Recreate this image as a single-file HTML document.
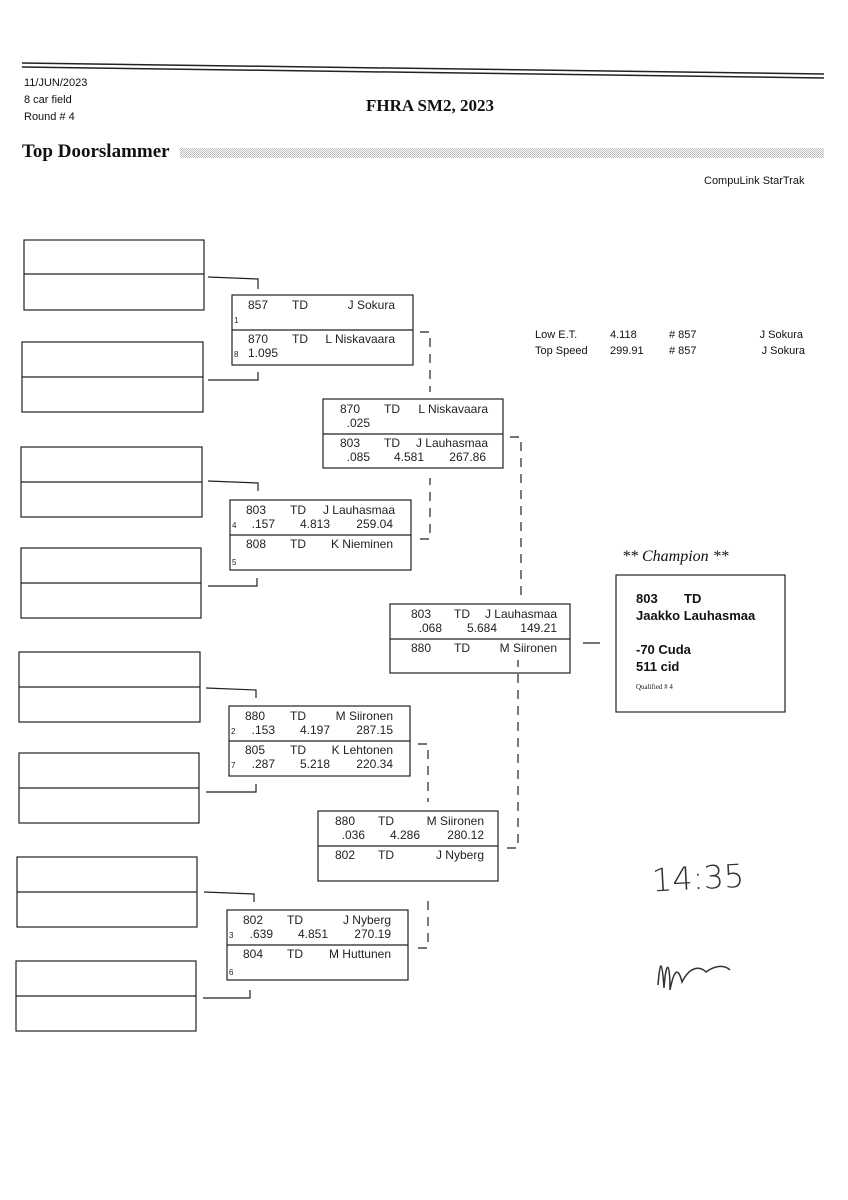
<!DOCTYPE html>
<html><head><meta charset="utf-8"><style>
html,body{margin:0;padding:0;background:#fff;}
svg{display:block}
.m{font-family:"Liberation Sans",sans-serif;font-size:12px;fill:#222}
.s{font-family:"Liberation Sans",sans-serif;font-size:8px;fill:#222}
.h{font-family:"Liberation Sans",sans-serif;font-size:11px;fill:#111}
</style></head><body>
<svg width="848" height="1200" viewBox="0 0 848 1200" xmlns="http://www.w3.org/2000/svg">
<defs><pattern id="dots" width="2" height="2" patternUnits="userSpaceOnUse"><rect width="1" height="1" fill="#555"/><rect x="1" y="1" width="1" height="1" fill="#555"/></pattern></defs>
<!-- header -->
<line x1="22" y1="63" x2="824" y2="74" stroke="#222" stroke-width="1.5"/>
<line x1="22" y1="67" x2="824" y2="78" stroke="#222" stroke-width="1.5"/>
<text x="24" y="86" class="h">11/JUN/2023</text>
<text x="24" y="103" class="h">8 car field</text>
<text x="24" y="120" class="h">Round # 4</text>
<text x="366" y="111" font-family="Liberation Serif,serif" font-weight="bold" font-size="17" fill="#111">FHRA SM2, 2023</text>
<text x="22" y="157" font-family="Liberation Serif,serif" font-weight="bold" font-size="19" fill="#111">Top Doorslammer</text>
<rect x="180" y="148" width="644" height="10" fill="url(#dots)" opacity="0.4"/>
<text x="704" y="184" class="h">CompuLink StarTrak</text>

<g fill="none" stroke="#222" stroke-width="1.2">
<rect x="24" y="240" width="180" height="70"/><line x1="24" y1="274" x2="204" y2="274"/>
<rect x="22" y="342" width="181" height="70"/><line x1="22" y1="377" x2="203" y2="377"/>
<rect x="21" y="447" width="181" height="70"/><line x1="21" y1="482" x2="202" y2="482"/>
<rect x="21" y="548" width="180" height="70"/><line x1="21" y1="583" x2="201" y2="583"/>
<rect x="19" y="652" width="181" height="70"/><line x1="19" y1="687" x2="200" y2="687"/>
<rect x="19" y="753" width="180" height="70"/><line x1="19" y1="788" x2="199" y2="788"/>
<rect x="17" y="857" width="180" height="70"/><line x1="17" y1="892" x2="197" y2="892"/>
<rect x="16" y="961" width="180" height="70"/><line x1="16" y1="996" x2="196" y2="996"/>
<rect x="232" y="295" width="181" height="70"/><line x1="232" y1="330" x2="413" y2="330"/>
<rect x="230" y="500" width="181" height="70"/><line x1="230" y1="535" x2="411" y2="535"/>
<rect x="229" y="706" width="181" height="70"/><line x1="229" y1="741" x2="410" y2="741"/>
<rect x="227" y="910" width="181" height="70"/><line x1="227" y1="945" x2="408" y2="945"/>
<rect x="323" y="399" width="180" height="69"/><line x1="323" y1="434" x2="503" y2="434"/>
<rect x="318" y="811" width="180" height="70"/><line x1="318" y1="846" x2="498" y2="846"/>
<rect x="390" y="604" width="180" height="69"/><line x1="390" y1="639" x2="570" y2="639"/>
<rect x="616" y="575" width="169" height="137"/>
<polyline points="208,277 258,279 258,289"/>
<polyline points="208,380 258,380 258,372"/>
<polyline points="208,481 258,483 258,491"/>
<polyline points="208,586 257,586 257,578"/>
<polyline points="206,688 256,690 256,698"/>
<polyline points="206,792 256,792 256,784"/>
<polyline points="204,892 254,894 254,902"/>
<polyline points="203,998 250,998 250,990"/>
<line x1="583" y1="643" x2="600" y2="643"/>
</g>
<g fill="none" stroke="#222" stroke-width="1.2" stroke-dasharray="9,7">
<polyline points="420,332 430,332 430,392"/>
<polyline points="420,539 430,539 430,478"/>
<polyline points="510,437 521,437 521,595"/>
<polyline points="418,744 428,744 428,802"/>
<polyline points="418,948 428,948 428,898"/>
<polyline points="507,848 518,848 518,660"/>
</g>

<g class="m">
<text x="248" y="309">857</text><text x="292" y="309">TD</text><text x="395" y="309" text-anchor="end">J Sokura</text>
<text x="234" y="323" class="s">1</text>
<text x="248" y="343">870</text><text x="292" y="343">TD</text><text x="395" y="343" text-anchor="end">L Niskavaara</text>
<text x="234" y="357" class="s">8</text><text x="248" y="357">1.095</text>
<text x="246" y="514">803</text><text x="290" y="514">TD</text><text x="395" y="514" text-anchor="end">J Lauhasmaa</text>
<text x="232" y="528" class="s">4</text><text x="275" y="528" text-anchor="end">.157</text><text x="330" y="528" text-anchor="end">4.813</text><text x="393" y="528" text-anchor="end">259.04</text>
<text x="246" y="548">808</text><text x="290" y="548">TD</text><text x="393" y="548" text-anchor="end">K Nieminen</text>
<text x="232" y="565" class="s">5</text>
<text x="245" y="720">880</text><text x="290" y="720">TD</text><text x="393" y="720" text-anchor="end">M Siironen</text>
<text x="231" y="734" class="s">2</text><text x="275" y="734" text-anchor="end">.153</text><text x="330" y="734" text-anchor="end">4.197</text><text x="393" y="734" text-anchor="end">287.15</text>
<text x="245" y="754">805</text><text x="290" y="754">TD</text><text x="393" y="754" text-anchor="end">K Lehtonen</text>
<text x="231" y="768" class="s">7</text><text x="275" y="768" text-anchor="end">.287</text><text x="330" y="768" text-anchor="end">5.218</text><text x="393" y="768" text-anchor="end">220.34</text>
<text x="243" y="924">802</text><text x="287" y="924">TD</text><text x="391" y="924" text-anchor="end">J Nyberg</text>
<text x="229" y="938" class="s">3</text><text x="273" y="938" text-anchor="end">.639</text><text x="328" y="938" text-anchor="end">4.851</text><text x="391" y="938" text-anchor="end">270.19</text>
<text x="243" y="958">804</text><text x="287" y="958">TD</text><text x="391" y="958" text-anchor="end">M Huttunen</text>
<text x="229" y="975" class="s">6</text>
<text x="340" y="413">870</text><text x="384" y="413">TD</text><text x="488" y="413" text-anchor="end">L Niskavaara</text>
<text x="370" y="427" text-anchor="end">.025</text>
<text x="340" y="447">803</text><text x="384" y="447">TD</text><text x="488" y="447" text-anchor="end">J Lauhasmaa</text>
<text x="370" y="461" text-anchor="end">.085</text><text x="424" y="461" text-anchor="end">4.581</text><text x="486" y="461" text-anchor="end">267.86</text>
<text x="335" y="825">880</text><text x="378" y="825">TD</text><text x="484" y="825" text-anchor="end">M Siironen</text>
<text x="365" y="839" text-anchor="end">.036</text><text x="420" y="839" text-anchor="end">4.286</text><text x="484" y="839" text-anchor="end">280.12</text>
<text x="335" y="859">802</text><text x="378" y="859">TD</text><text x="484" y="859" text-anchor="end">J Nyberg</text>
<text x="411" y="618">803</text><text x="454" y="618">TD</text><text x="557" y="618" text-anchor="end">J Lauhasmaa</text>
<text x="442" y="632" text-anchor="end">.068</text><text x="497" y="632" text-anchor="end">5.684</text><text x="557" y="632" text-anchor="end">149.21</text>
<text x="411" y="652">880</text><text x="454" y="652">TD</text><text x="557" y="652" text-anchor="end">M Siironen</text>
<text x="535" y="338" class="h">Low  E.T.</text><text x="610" y="338" class="h">4.118</text><text x="669" y="338" class="h"># 857</text><text x="803" y="338" text-anchor="end" class="h">J Sokura</text>
<text x="535" y="354" class="h">Top Speed</text><text x="610" y="354" class="h">299.91</text><text x="669" y="354" class="h"># 857</text><text x="805" y="354" text-anchor="end" class="h">J Sokura</text>
</g>
<text x="622" y="561" font-family="Liberation Serif,serif" font-style="italic" font-size="16" fill="#111">** Champion **</text>
<g font-family="Liberation Sans,sans-serif" font-size="13" font-weight="bold" fill="#111">
<text x="636" y="603">803</text><text x="684" y="603">TD</text>
<text x="636" y="620">Jaakko Lauhasmaa</text>
<text x="636" y="654">-70 Cuda</text>
<text x="636" y="671">511 cid</text>
</g>
<text x="636" y="689" font-family="Liberation Serif,serif" font-size="7" fill="#111">Qualified # 4</text>
<text x="652" y="890" font-family="DejaVu Sans,sans-serif" font-size="32" font-weight="200" fill="#333" transform="rotate(-3 680 880)">14:35</text>
<path d="M658,985 C660,960 662,958 664,988 C666,960 670,960 670,990 C674,970 678,966 682,982 C690,966 700,966 706,972 C714,966 724,964 730,970" fill="none" stroke="#333" stroke-width="1.5"/>
</svg>
</body></html>
